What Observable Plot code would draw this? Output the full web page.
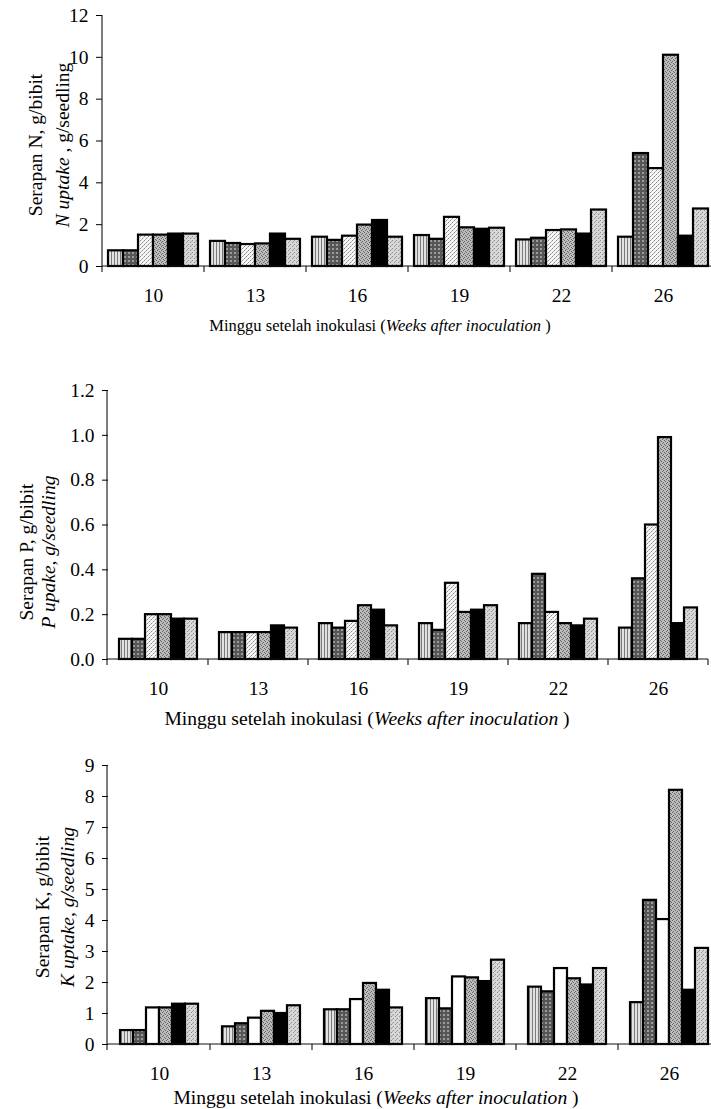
<!DOCTYPE html>
<html>
<head>
<meta charset="utf-8">
<script src="https://cdn.jsdelivr.net/npm/d3@7"></script>
<script src="https://cdn.jsdelivr.net/npm/@observablehq/plot@0.6"></script>
<style>
  html, body { margin: 0; padding: 0; background: #fff; overflow: hidden; }
  #root { position: relative; width: 711px; height: 1109px; overflow: hidden; }
  .chart { position: absolute; left: 0; }
</style>
</head>
<body>
<svg width="0" height="0" style="position:absolute">
  <defs>
    <pattern id="pat-vert" width="3" height="3" patternUnits="userSpaceOnUse">
      <rect width="3" height="3" fill="#e2e2e2"/>
      <rect width="1" height="3" fill="#7a7a7a"/>
    </pattern>
    <pattern id="pat-dark" width="4" height="4" patternUnits="userSpaceOnUse">
      <rect width="4" height="4" fill="#565656"/>
      <rect width="2" height="2" fill="#9c9c9c"/>
    </pattern>
    <pattern id="pat-light" width="4" height="4" patternUnits="userSpaceOnUse">
      <rect width="4" height="4" fill="#f6f6f6"/>
      <rect x="0" y="0" width="1" height="1" fill="#8a8a8a"/>
      <rect x="2" y="2" width="1" height="1" fill="#8a8a8a"/>
      <rect x="1" y="3" width="1" height="1" fill="#b8b8b8"/>
      <rect x="3" y="1" width="1" height="1" fill="#b8b8b8"/>
    </pattern>
    <pattern id="pat-mid" width="4" height="4" patternUnits="userSpaceOnUse">
      <rect width="4" height="4" fill="#bdbdbd"/>
      <rect x="0" y="0" width="1" height="1" fill="#666"/>
      <rect x="2" y="1" width="1" height="1" fill="#666"/>
      <rect x="1" y="2" width="1" height="1" fill="#666"/>
      <rect x="3" y="3" width="1" height="1" fill="#666"/>
    </pattern>
    <pattern id="pat-fine" width="4" height="4" patternUnits="userSpaceOnUse">
      <rect width="4" height="4" fill="#d8d8d8"/>
      <rect x="0" y="0" width="1" height="1" fill="#8c8c8c"/>
      <rect x="2" y="2" width="1" height="1" fill="#8c8c8c"/>
      <rect x="3" y="1" width="1" height="1" fill="#a8a8a8"/>
    </pattern>
  </defs>
</svg>
<div id="root"></div>
<script>
// ---- Data ----
const weeks = ["10", "13", "16", "19", "22", "26"];
const treatments = ["T1", "T2", "T3", "T4", "T5", "T6"];

// N uptake (g/seedling), one row per week, one value per treatment
const nUptake = [
  [0.75, 0.75, 1.50, 1.50, 1.55, 1.55],
  [1.20, 1.10, 1.05, 1.08, 1.55, 1.30],
  [1.40, 1.25, 1.45, 1.98, 2.20, 1.40],
  [1.48, 1.30, 2.35, 1.85, 1.78, 1.83],
  [1.27, 1.35, 1.72, 1.75, 1.55, 2.70],
  [1.40, 5.40, 4.68, 10.10, 1.45, 2.75]
];
// P uptake (g/seedling)
const pUptake = [
  [0.09, 0.09, 0.20, 0.20, 0.18, 0.18],
  [0.12, 0.12, 0.12, 0.12, 0.15, 0.14],
  [0.16, 0.14, 0.17, 0.24, 0.22, 0.15],
  [0.16, 0.13, 0.34, 0.21, 0.22, 0.24],
  [0.16, 0.38, 0.21, 0.16, 0.15, 0.18],
  [0.14, 0.36, 0.60, 0.99, 0.16, 0.23]
];
// K uptake (g/seedling)
const kUptake = [
  [0.45, 0.45, 1.18, 1.18, 1.30, 1.30],
  [0.57, 0.67, 0.85, 1.07, 1.00, 1.25],
  [1.12, 1.12, 1.45, 1.97, 1.75, 1.18],
  [1.48, 1.15, 2.18, 2.15, 2.03, 2.72],
  [1.85, 1.70, 2.45, 2.12, 1.92, 2.45],
  [1.35, 4.65, 4.03, 8.20, 1.75, 3.10]
];

const nTicks = [0, 2, 4, 6, 8, 10, 12];
const pTicks = [0, 0.2, 0.4, 0.6, 0.8, 1.0, 1.2];
const kTicks = [0, 1, 2, 3, 4, 5, 6, 7, 8, 9];

const fillsNP = ["url(#pat-vert)", "url(#pat-dark)", "url(#pat-light)", "url(#pat-mid)", "#000000", "url(#pat-fine)"];
const fillsK  = ["url(#pat-vert)", "url(#pat-dark)", "#ffffff", "url(#pat-mid)", "#000000", "url(#pat-fine)"];

const FONT = "'Liberation Serif', 'Times New Roman', Times, serif";

function toRows(values) {
  return weeks.flatMap((w, i) => treatments.map((t, j) => ({week: w, treatment: t, value: values[i][j]})));
}

function makeChart(cfg) {
  const data = toRows(cfg.values);
  const yMax = cfg.ticks[cfg.ticks.length - 1];

  const svg = Plot.plot({
    width: 711,
    height: cfg.height,
    marginTop: cfg.marginTop,
    marginBottom: cfg.marginBottom,
    marginLeft: cfg.marginLeft,
    marginRight: cfg.marginRight,
    style: {fontFamily: FONT, fontSize: "19.5px", color: "black", background: "white", overflow: "hidden"},
    fx: {domain: weeks, padding: 0, axis: "bottom", label: null, tickSize: 0, tickPadding: 22},
    x: {domain: treatments, paddingInner: 0, paddingOuter: cfg.padOuter, axis: null},
    y: {domain: [0, yMax], ticks: cfg.ticks, tickFormat: cfg.tickFormat, tickSize: 6, tickPadding: 8, label: null},
    color: {domain: treatments, range: cfg.fills, legend: false},
    marks: [
      Plot.barY(data, {fx: "week", x: "treatment", y: "value", fill: "treatment", stroke: "black", strokeWidth: 2.2})
    ]
  });
  svg.setAttribute("font-family", FONT);

  const s = d3.select(svg);

  // axis lines, positioned with the plot's own scales
  const yS = svg.scale("y");
  const fxS = svg.scale("fx");
  const y0 = yS.apply(0);
  const yTop = yS.apply(yMax);
  const left = fxS.range[0];
  const right = fxS.range[1];
  const bw = fxS.bandwidth != null ? fxS.bandwidth : (right - left) / weeks.length;
  const edges = [left, ...weeks.map(w => fxS.apply(w) + bw)];
  const g = s.append("g").attr("stroke", "#111").attr("stroke-width", 1.1).attr("fill", "none");
  g.append("line").attr("x1", left).attr("x2", left).attr("y1", yTop).attr("y2", y0);
  g.append("line").attr("x1", left).attr("x2", right).attr("y1", y0).attr("y2", y0);
  for (const e of edges) {
    g.append("line").attr("x1", e).attr("x2", e).attr("y1", y0).attr("y2", y0 + 6);
  }

  // y-axis title (two lines)
  const yt = s.append("g").attr("font-size", cfg.yTitleSize);
  yt.append("text").attr("text-anchor", "middle").attr("dominant-baseline", "central")
    .attr("transform", `translate(${cfg.yTitleX1},${cfg.yTitleY}) rotate(-90)`).text(cfg.yTitle1);
  const l2 = yt.append("text").attr("text-anchor", "middle").attr("dominant-baseline", "central")
    .attr("transform", `translate(${cfg.yTitleX2},${cfg.yTitleY}) rotate(-90)`);
  for (const [txt, it] of cfg.yTitle2) {
    l2.append("tspan").attr("font-style", it ? "italic" : "normal").text(txt);
  }
  // x-axis title
  const xt = s.append("text").attr("text-anchor", "middle").attr("dominant-baseline", "central")
    .attr("font-size", cfg.xTitleSize).attr("x", cfg.xTitleX).attr("y", cfg.xTitleY);
  xt.append("tspan").text("Minggu setelah inokulasi (");
  xt.append("tspan").attr("font-style", "italic").text("Weeks after inoculation");
  xt.append("tspan").text(" )");

  const wrap = document.createElement("div");
  wrap.className = "chart";
  wrap.style.top = cfg.top + "px";
  wrap.appendChild(svg);
  document.getElementById("root").appendChild(wrap);
}

makeChart({
  values: nUptake, ticks: nTicks, tickFormat: d3.format("d"), fills: fillsNP,
  top: 0, height: 345, marginTop: 15, marginBottom: 79, marginLeft: 102, marginRight: -3, padOuter: 0.33,
  yTitle1: "Serapan N, g/bibit", yTitle2: [["N uptake", true], [" , g/seedling", false]],
  yTitleSize: "19.5px", yTitleX1: 35, yTitleX2: 62, yTitleY: 145,
  xTitleSize: "16.5px", xTitleX: 380, xTitleY: 325
});

makeChart({
  values: pUptake, ticks: pTicks, tickFormat: d3.format(".1f"), fills: fillsNP,
  top: 345, height: 385, marginTop: 45, marginBottom: 71, marginLeft: 107, marginRight: 3, padOuter: 0.72,
  yTitle1: "Serapan P, g/bibit", yTitle2: [["P upake, g/seedling", true]],
  yTitleSize: "19.5px", yTitleX1: 26, yTitleX2: 48, yTitleY: 207,
  xTitleSize: "19.6px", xTitleX: 367, xTitleY: 373
});

makeChart({
  values: kUptake, ticks: kTicks, tickFormat: d3.format("d"), fills: fillsK,
  top: 730, height: 379, marginTop: 35, marginBottom: 65, marginLeft: 107, marginRight: -9, padOuter: 0.73,
  yTitle1: "Serapan K, g/bibit", yTitle2: [["K uptake, g/seedling", true]],
  yTitleSize: "19.5px", yTitleX1: 42, yTitleX2: 67, yTitleY: 177,
  xTitleSize: "19.6px", xTitleX: 376, xTitleY: 367
});
</script>
</body>
</html>
